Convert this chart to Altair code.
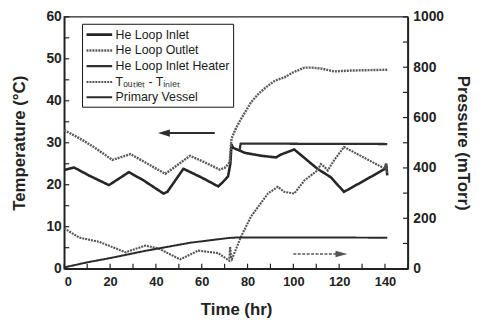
import altair as alt
import pandas as pd

# ---------------- data ----------------
series_names = ["He Loop Inlet", "He Loop Outlet", "He Loop Inlet Heater",
                "T\u2092\u1d64\u209c\u2097\u2091\u209c - T\u1d62\u2099\u2097\u2091\u209c", "Primary Vessel"]

time_inlet = [0, 4.3, 10.8, 19.5, 28.2, 34.7, 43.3, 45, 52, 60, 67.2, 69, 71.5, 72.5, 73,
              73.7, 78.8, 86, 92.5, 94.6, 100.4, 110.5, 116.3, 122.1, 131, 140, 140.5, 141]
inlet_vals = [23.5, 24.1, 22.2, 19.9, 23.0, 21.0, 17.9, 18.3, 23.8, 21.7, 19.6, 20.5, 22.0, 25.0, 29.6,
              28.8, 27.6, 26.9, 26.5, 27.2, 28.4, 23.8, 21.8, 18.3, 21.0, 23.8, 25.0, 22.2]

time_outlet = [0, 6.5, 12.3, 21, 28.9, 35.4, 44.1, 54.9, 61.4, 67.9, 70, 72.2, 73, 75, 77.3,
               81.6, 85, 88.9, 92, 96.1, 100, 104.8, 108, 112, 117.8, 125, 132, 141]
outlet_vals = [33.0, 31.1, 29.2, 25.9, 27.3, 25.3, 22.6, 26.9, 25.3, 23.6, 24.0, 25.3, 31.0, 33.5, 35.8,
               39.7, 41.8, 43.6, 44.8, 45.6, 46.8, 47.9, 47.9, 47.7, 47.0, 47.2, 47.3, 47.4]

time_heater = [76.5, 77, 141]
heater_vals = [28.0, 29.8, 29.7]

time_diff = [0, 6.5, 15.2, 26.7, 35.4, 41.2, 50.6, 58.5, 67.2, 72.0, 72.4, 72.8, 73.2, 77.3, 81.6,
             88.9, 93.2, 96, 100.4, 104.8, 110.5, 112, 113.5, 115, 118, 122.1, 140, 140.5, 141]
diff_vals = [9.6, 7.4, 6.4, 3.9, 5.5, 4.8, 2.2, 4.3, 3.7, 1.9, 5.2, 3.0, 2.3, 7.8, 12.5,
             17.9, 19.5, 18.3, 17.9, 21.0, 23.4, 24.9, 24.3, 23.4, 26.0, 29.0, 23.8, 25.0, 22.5]

time_pv = [0, 10, 20, 35, 55, 72, 76, 90, 141]
pv_vals = [5, 25, 42, 70, 103, 122, 124, 124, 123]   # mTorr

# annotation arrows (left axis arrow / pressure axis arrow)
arrow_left_t = [43.5, 65.7]
arrow_left_v = [32.3, 32.3]
arrow_right_t = [100, 119.5]
arrow_right_v = [58, 58]

x_ticks = list(range(0, 151, 10))
x_labels = list(range(0, 141, 20))
t_ticks = list(range(0, 61, 5))
t_labels = list(range(0, 61, 10))
p_ticks = list(range(0, 1001, 100))
p_labels = list(range(0, 1001, 200))

# ---------------- styles ----------------
series_colors = ["#262626", "#5c5c5c", "#303030", "#555555", "#2a2a2a"]
series_dash = [[1, 0], [2, 1], [1, 0], [2, 1], [1, 0]]
series_width = [2.6, 2.0, 2.2, 1.9, 1.6]

FONT = "Liberation Sans"
W, H = 348, 255

frames = []
for name, ts, vs in [(series_names[0], time_inlet, inlet_vals),
                     (series_names[1], time_outlet, outlet_vals),
                     (series_names[2], time_heater, heater_vals),
                     (series_names[3], time_diff, diff_vals)]:
    frames.append(pd.DataFrame({"t": ts, "value": vs, "series": name, "idx": range(len(ts))}))
temp_df = pd.concat(frames, ignore_index=True)
pv_df = pd.DataFrame({"t": time_pv, "value": pv_vals, "series": series_names[4], "idx": range(len(time_pv))})

xscale = alt.Scale(domain=[0, 150], nice=False)
tscale = alt.Scale(domain=[0, 60], nice=False)
pscale = alt.Scale(domain=[0, 1000], nice=False)

legend = alt.Legend(title=None, orient="none", legendX=18, legendY=7, strokeColor="#111",
                    fillColor="white", padding=3, symbolType="M-1,0H3", symbolSize=169,
                    labelFont=FONT, labelFontSize=12.5, labelColor="#1a1a1a", rowPadding=1,
                    labelOffset=15, labelLimit=300)
enc_style = dict(
    color=alt.Color("series:N", scale=alt.Scale(domain=series_names, range=series_colors), legend=legend),
    strokeDash=alt.StrokeDash("series:N", scale=alt.Scale(domain=series_names, range=series_dash), legend=legend),
    strokeWidth=alt.StrokeWidth("series:N", scale=alt.Scale(domain=series_names, range=series_width), legend=legend),
)

x_axis = alt.Axis(title="Time (hr)", values=x_labels, tickSize=0, labelPadding=7,
                  labelFontSize=13, titlePadding=13)
t_axis = alt.Axis(title="Temperature (\u00b0C)", values=t_labels, tickSize=0, labelPadding=3,
                  titlePadding=18)
p_axis = alt.Axis(title="Pressure (mTorr)", orient="right", values=p_labels, format="d", tickSize=0,
                  labelPadding=5, titlePadding=10)

temp_lines = alt.Chart(temp_df).mark_line().encode(
    x=alt.X("t:Q", scale=xscale, axis=x_axis),
    y=alt.Y("value:Q", scale=tscale, axis=t_axis),
    order="idx:Q",
    detail="series:N",
    **enc_style,
)

left_arrow = alt.Chart(pd.DataFrame({"t": arrow_left_t, "value": arrow_left_v})).mark_line(
    color="#2e2e2e", strokeWidth=2).encode(
    x=alt.X("t:Q", scale=xscale, axis=x_axis), y=alt.Y("value:Q", scale=tscale, axis=t_axis))
left_head = alt.Chart(pd.DataFrame({"t": arrow_left_t[:1], "value": arrow_left_v[:1]})).mark_point(
    shape="M1,-0.6L-1,0L1,0.6Z", filled=True, size=144, color="#2e2e2e", opacity=1).encode(
    x=alt.X("t:Q", scale=xscale, axis=x_axis), y=alt.Y("value:Q", scale=tscale, axis=t_axis))

xtick_rules = alt.Chart(pd.DataFrame({"t": x_ticks})).mark_rule(color="#222", strokeWidth=1.2).encode(
    x=alt.X("t:Q", scale=xscale, axis=x_axis), y=alt.value(H), y2=alt.value(H - 5))
ttick_rules = alt.Chart(pd.DataFrame({"value": t_ticks})).mark_rule(color="#222", strokeWidth=1.2).encode(
    y=alt.Y("value:Q", scale=tscale, axis=t_axis), x=alt.value(0), x2=alt.value(5))

temp_group = alt.layer(temp_lines, left_arrow, left_head, xtick_rules, ttick_rules)

pv_line = alt.Chart(pv_df).mark_line().encode(
    x=alt.X("t:Q", scale=xscale, axis=x_axis),
    y=alt.Y("value:Q", scale=pscale, axis=p_axis),
    order="idx:Q",
    **enc_style,
)
right_arrow = alt.Chart(pd.DataFrame({"t": arrow_right_t, "value": arrow_right_v})).mark_line(
    color="#555", strokeWidth=1.5, strokeDash=[3, 1.5]).encode(
    x=alt.X("t:Q", scale=xscale, axis=x_axis), y=alt.Y("value:Q", scale=pscale, axis=p_axis))
right_head = alt.Chart(pd.DataFrame({"t": [121], "value": arrow_right_v[:1]})).mark_point(
    shape="M-1,-0.55L1,0L-1,0.55Z", filled=True, size=144, color="#555", opacity=1).encode(
    x=alt.X("t:Q", scale=xscale, axis=x_axis), y=alt.Y("value:Q", scale=pscale, axis=p_axis))
ptick_rules = alt.Chart(pd.DataFrame({"value": p_ticks})).mark_rule(color="#222", strokeWidth=1.2).encode(
    y=alt.Y("value:Q", scale=pscale, axis=p_axis), x=alt.value(W), x2=alt.value(W - 5))

pres_group = alt.layer(pv_line, right_arrow, right_head, ptick_rules)

chart = alt.layer(temp_group, pres_group).resolve_scale(y="independent").properties(
    width=W, height=H,
    padding={"left": 57, "top": 7, "right": 70, "bottom": 48},
    autosize=alt.AutoSizeParams(type="none"),
    background="white",
).configure_view(stroke="#222", strokeWidth=1.5).configure_axis(
    labelFont=FONT, labelFontWeight="bold", labelFontSize=14, labelColor="#222",
    titleFont=FONT, titleFontWeight="bold", titleFontSize=17, titleColor="#222",
    domainColor="#222", domainWidth=1.5, grid=False,
)

chart.save("out.html", embed_options={"renderer": "svg", "actions": False})
